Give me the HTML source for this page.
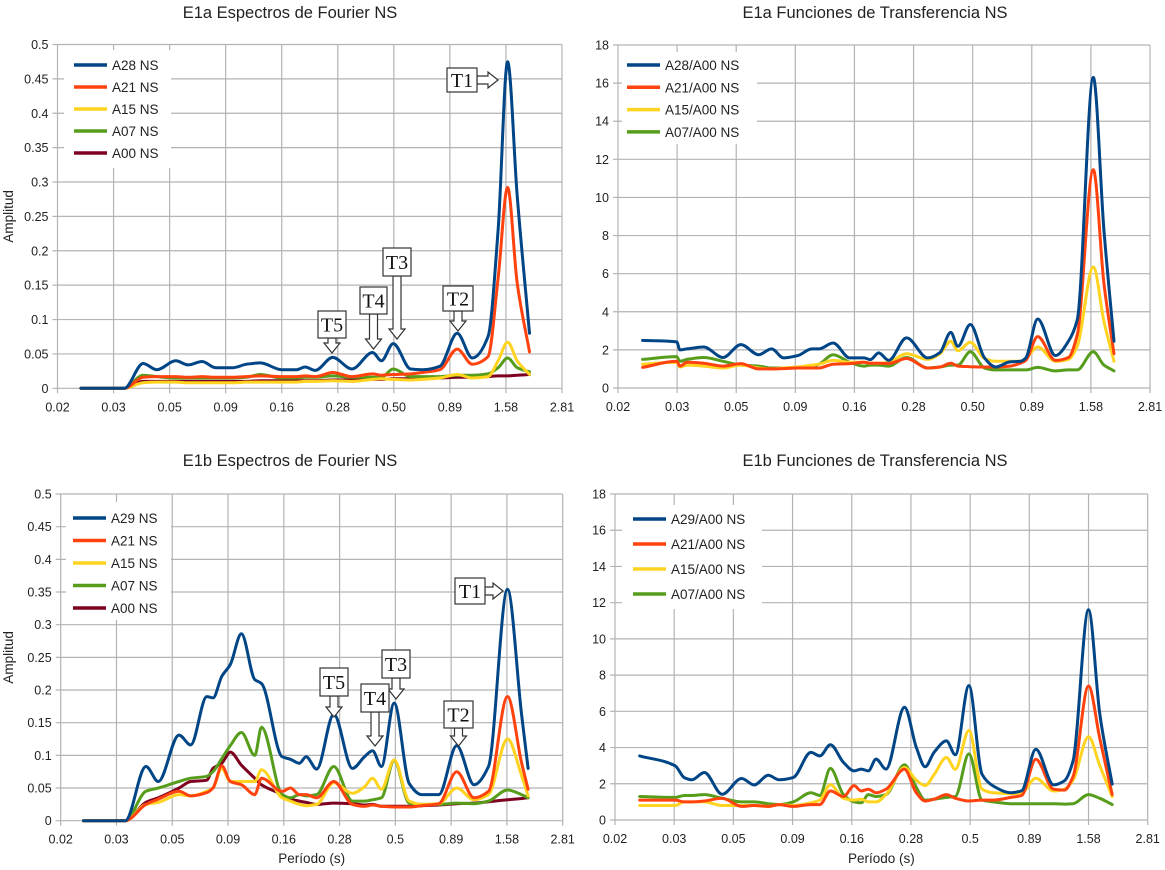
<!DOCTYPE html>
<html><head><meta charset="utf-8">
<style>
html,body{margin:0;padding:0;background:#fff;}
svg{display:block;font-family:"Liberation Sans",sans-serif;}
</style></head>
<body>
<svg id="chart" width="1165" height="870" viewBox="0 0 1165 870" xmlns="http://www.w3.org/2000/svg"></svg>
<script>
// ---------- data ----------
const xTickLabelsTop = ["0.02","0.03","0.05","0.09","0.16","0.28","0.50","0.89","1.58","2.81"];
const xTickLabelsBottom = ["0.02","0.03","0.05","0.09","0.16","0.28","0.5","0.89","1.58","2.81"];
const fourierTicks = [0,0.05,0.1,0.15,0.2,0.25,0.3,0.35,0.4,0.45,0.5];
const fourierTickLabels = ["0","0.05","0.1","0.15","0.2","0.25","0.3","0.35","0.4","0.45","0.5"];
const transfTicks = [0,2,4,6,8,10,12,14,16,18];
const transfTickLabels = ["0","2","4","6","8","10","12","14","16","18"];

// Top-left: E1a Fourier spectra
const tlPeriods = [0.0201,0.0314,0.0381,0.0438,0.0533,0.0605,0.0698,0.0802,0.0958,0.110,0.127,0.158,0.184,0.201,0.223,0.267,0.325,0.402,0.440,0.497,0.594,0.671,0.802,0.958,1.119,1.315,1.459,1.608,1.774,2.014];
const tlA28 = [0,0,0.036,0.027,0.040,0.034,0.039,0.030,0.030,0.035,0.037,0.027,0.027,0.031,0.026,0.045,0.028,0.052,0.040,0.065,0.028,0.027,0.032,0.080,0.044,0.075,0.23,0.475,0.28,0.08];
const tlA21 = [0,0,0.016,0.017,0.017,0.016,0.017,0.016,0.016,0.017,0.018,0.017,0.017,0.018,0.017,0.023,0.017,0.021,0.019,0.020,0.021,0.023,0.027,0.057,0.035,0.046,0.16,0.292,0.153,0.053];
const tlA15 = [0,0,0.008,0.009,0.009,0.008,0.008,0.008,0.008,0.009,0.009,0.009,0.009,0.010,0.010,0.011,0.010,0.013,0.014,0.013,0.012,0.013,0.015,0.020,0.015,0.017,0.040,0.067,0.040,0.020];
const tlA07 = [0,0,0.019,0.017,0.015,0.015,0.015,0.015,0.015,0.016,0.020,0.015,0.015,0.016,0.016,0.018,0.016,0.016,0.016,0.028,0.017,0.017,0.017,0.019,0.019,0.021,0.030,0.044,0.030,0.024];
const tlA00 = [0,0,0.010,0.010,0.010,0.010,0.010,0.010,0.010,0.010,0.011,0.011,0.011,0.011,0.011,0.012,0.012,0.013,0.013,0.014,0.014,0.015,0.015,0.016,0.016,0.017,0.018,0.018,0.019,0.020];

// Top-right: E1a transfer functions
const trPeriods = [0.0201,0.0280,0.0289,0.0310,0.0364,0.0440,0.0523,0.0622,0.0706,0.0792,0.0910,0.1045,0.1119,0.1285,0.1510,0.1733,0.1847,0.2002,0.2207,0.2625,0.3228,0.364,0.404,0.433,0.4885,0.561,0.626,0.719,0.797,0.839,0.942,1.119,1.270,1.385,1.618,1.795,1.980];
const trA28 = [2.50,2.42,2.00,2.05,2.15,1.60,2.28,1.75,2.05,1.58,1.70,2.05,2.05,2.36,1.58,1.58,1.49,1.84,1.45,2.63,1.58,1.87,2.92,2.19,3.33,1.58,1.10,1.37,1.40,1.58,3.62,1.70,2.45,3.59,16.3,8.3,2.45];
const trA21 = [1.08,1.40,1.15,1.35,1.30,1.15,1.28,1.00,1.00,1.02,1.05,1.05,1.05,1.25,1.28,1.35,1.30,1.30,1.28,1.55,1.05,1.10,1.30,1.15,1.12,1.10,1.10,1.15,1.30,1.45,2.70,1.45,1.60,2.80,11.45,5.5,1.80];
const trA15 = [1.25,1.35,1.10,1.20,1.15,1.05,1.20,1.05,1.00,1.05,1.10,1.20,1.25,1.45,1.35,1.35,1.30,1.30,1.35,1.80,1.50,1.80,2.45,1.95,2.40,1.55,1.40,1.40,1.40,1.55,2.15,1.40,1.50,2.20,6.35,3.5,1.40];
const trA07 = [1.50,1.65,1.40,1.50,1.60,1.40,1.20,1.15,1.05,1.05,1.10,1.15,1.25,1.75,1.35,1.15,1.20,1.20,1.15,1.60,1.05,1.10,1.20,1.20,1.90,1.05,0.95,0.95,0.95,0.95,1.08,0.90,0.95,0.95,1.90,1.20,0.90];

// Bottom-left: E1b Fourier spectra
const blPeriods = [0.0200,0.0308,0.0381,0.0433,0.0536,0.0605,0.0714,0.0761,0.0834,0.0910,0.1021,0.1172,0.1256,0.1554,0.1695,0.1858,0.199,0.222,0.265,0.321,0.364,0.395,0.433,0.494,0.577,0.655,0.783,0.942,1.126,1.307,1.590,1.836,1.968];
const blA29 = [0,0,0.083,0.060,0.131,0.116,0.190,0.188,0.221,0.239,0.286,0.216,0.210,0.098,0.094,0.088,0.098,0.079,0.163,0.080,0.098,0.107,0.083,0.180,0.057,0.040,0.040,0.115,0.055,0.083,0.354,0.165,0.080];
const blA21 = [0,0,0.025,0.033,0.045,0.038,0.043,0.050,0.084,0.060,0.055,0.040,0.065,0.045,0.050,0.040,0.040,0.035,0.060,0.025,0.022,0.024,0.022,0.021,0.021,0.023,0.026,0.075,0.035,0.045,0.190,0.090,0.048];
const blA15 = [0,0,0.025,0.028,0.040,0.038,0.045,0.050,0.080,0.060,0.060,0.060,0.078,0.035,0.030,0.025,0.023,0.025,0.058,0.042,0.052,0.065,0.048,0.093,0.030,0.025,0.026,0.050,0.032,0.040,0.125,0.070,0.038];
const blA07 = [0,0,0.045,0.050,0.060,0.065,0.068,0.075,0.095,0.115,0.135,0.100,0.143,0.040,0.035,0.040,0.038,0.040,0.083,0.030,0.030,0.032,0.035,0.092,0.027,0.025,0.025,0.027,0.026,0.030,0.047,0.040,0.035];
const blA00 = [0,0,0.028,0.035,0.050,0.060,0.062,0.080,0.088,0.105,0.085,0.065,0.055,0.040,0.033,0.030,0.028,0.025,0.027,0.026,0.024,0.025,0.022,0.022,0.022,0.023,0.024,0.026,0.027,0.029,0.032,0.034,0.035];

// Bottom-right: E1b transfer functions
const brPeriods = [0.0201,0.0284,0.0310,0.0334,0.0377,0.0448,0.0542,0.0612,0.0702,0.0779,0.0894,0.1063,0.1159,0.1285,0.1459,0.1618,0.1733,0.1858,0.2002,0.2207,0.2640,0.2963,0.3228,0.352,0.397,0.433,0.494,0.561,0.626,0.744,0.825,0.947,1.126,1.249,1.361,1.581,1.764,1.990];
const brA29 = [3.54,2.99,2.34,2.22,2.62,1.42,2.29,1.94,2.47,2.22,2.34,3.73,3.54,4.15,3.18,2.71,2.81,2.71,3.36,2.81,6.22,4.01,2.94,3.73,4.37,3.60,7.42,2.53,1.88,1.51,1.61,3.91,1.94,2.16,3.27,11.61,5.85,1.98];
const brA21 = [1.10,1.10,1.00,1.00,1.05,1.20,0.75,0.80,0.75,0.85,0.75,0.85,0.85,1.60,1.30,1.90,1.60,1.70,1.50,1.70,2.80,1.50,1.05,1.15,1.40,1.20,1.05,1.10,1.10,1.25,1.35,3.35,1.70,1.65,2.40,7.40,4.50,1.40];
const brA15 = [0.80,0.80,1.00,1.00,1.00,0.80,0.80,0.80,0.75,0.85,0.80,0.95,1.10,1.95,1.20,1.10,1.15,1.00,1.00,1.40,2.90,2.20,1.90,2.50,3.45,2.80,4.95,1.70,1.50,1.45,1.50,2.30,1.60,1.70,2.20,4.60,3.00,1.30];
const brA07 = [1.30,1.25,1.35,1.35,1.40,1.20,1.00,1.00,0.90,0.85,1.00,1.50,1.35,2.85,1.40,1.00,0.95,1.40,1.30,1.40,3.05,1.80,1.10,1.15,1.25,1.30,3.65,1.10,1.00,0.90,0.90,0.90,0.90,0.88,0.90,1.40,1.20,0.85];

// ---------- drawing ----------
const C = {blue:"#004586", orange:"#ff420e", yellow:"#ffd320", green:"#579d1c", maroon:"#7e0021"};
const svg = document.getElementById('chart');
const NS = "http://www.w3.org/2000/svg";
function mk(tag, attrs, parent){
  const e = document.createElementNS(NS, tag);
  for (const k in attrs) e.setAttribute(k, attrs[k]);
  (parent||svg).appendChild(e);
  return e;
}
const P0 = Math.log10(0.0158114);

function monotonePath(pts){
  const n = pts.length;
  if (n < 2) return "";
  const dx=[], dy=[], m=[];
  for (let i=0;i<n-1;i++){dx.push(pts[i+1][0]-pts[i][0]); dy.push(pts[i+1][1]-pts[i][1]); m.push(dy[i]/dx[i]);}
  const t=[m[0]];
  for (let i=1;i<n-1;i++){
    if (m[i-1]*m[i] <= 0) t.push(0);
    else { const w1=2*dx[i]+dx[i-1], w2=dx[i]+2*dx[i-1]; t.push((w1+w2)/(w1/m[i-1]+w2/m[i])); }
  }
  t.push(m[n-2]);
  let d = "M"+pts[0][0].toFixed(1)+","+pts[0][1].toFixed(1);
  for (let i=0;i<n-1;i++){
    const h=dx[i];
    d += " C"+(pts[i][0]+h/3).toFixed(1)+","+(pts[i][1]+t[i]*h/3).toFixed(1)+" "+(pts[i+1][0]-h/3).toFixed(1)+","+(pts[i+1][1]-t[i+1]*h/3).toFixed(1)+" "+pts[i+1][0].toFixed(1)+","+pts[i+1][1].toFixed(1);
  }
  return d;
}

function drawPanel(cfg){
  const g = mk('g', {});
  
  
  const step = (cfg.x9-cfg.x0)/9;
  const xS = p => cfg.x0 + (Math.log10(p)-P0)/0.25*step;
  const yS = v => cfg.yb - v/cfg.ymax*(cfg.yb-cfg.yt);
  const grid = mk('g', {}, g);
  
  
  cfg.yTicks.forEach((v,i)=>{
    const y = yS(v);
    mk('line',{x1:cfg.x0-5,x2:cfg.x9,y1:y,y2:y,stroke:"#b3b3b3","stroke-width":1.2},grid);
    const t = mk('text',{x:cfg.x0-9,y:y+4.5,"text-anchor":"end","font-size":12.5,fill:"#222"},g);
    t.textContent = cfg.yLabels[i];
    
    
  });
  for (let i=0;i<10;i++){
    const x = cfg.x0 + i*step;
    mk('line',{x1:x,x2:x,y1:cfg.yt,y2:cfg.yb+5,stroke:"#b3b3b3","stroke-width":1.2},grid);
    const t = mk('text',{x:x,y:cfg.yb+23,"text-anchor":"middle","font-size":12.5,fill:"#222"},g);
    t.textContent = cfg.xLabels[i];
    
    
  }
  const tt = mk('text',{x:cfg.titleX,y:cfg.titleY,"text-anchor":"middle","font-size":16.5,fill:"#222"},g);
  tt.textContent = cfg.title;
  
  
  if (cfg.yTitle){
    const yt = mk('text',{x:0,y:0,"text-anchor":"middle","font-size":13.5,fill:"#222",transform:"translate(13,"+((cfg.yt+cfg.yb)/2)+") rotate(-90)"},g);
    yt.textContent = cfg.yTitle;
    
    
  }
  if (cfg.xTitle){
    const xt = mk('text',{x:(cfg.x0+cfg.x9)/2,y:863,"text-anchor":"middle","font-size":13.5,fill:"#222"},g);
    xt.textContent = cfg.xTitle;
    
    
  }
  for (let s=cfg.series.length-1; s>=0; s--){
    const ser = cfg.series[s];
    const pts = cfg.periods.map((p,i)=>[xS(p), yS(ser.values[i])]);
    const path = mk('path',{d:monotonePath(pts),fill:"none",stroke:ser.color,"stroke-width":3,"stroke-linejoin":"round","stroke-linecap":"round"},g);
    
    
  }
  const lg = mk('g',{},g);
  
  
  mk('rect',{x:cfg.legend.x,y:cfg.legend.y,width:cfg.legend.w,height:cfg.legend.h,fill:"#fff"},lg);
  cfg.series.forEach((ser,i)=>{
    const y = cfg.legend.ly0 + i*cfg.legend.dy;
    const e = mk('g',{},lg);
    
    
    mk('line',{x1:cfg.legend.lx,x2:cfg.legend.lx+33,y1:y,y2:y,stroke:ser.color,"stroke-width":3.5},e);
    const t = mk('text',{x:cfg.legend.lx+38,y:y+5,"font-size":13.5,fill:"#222"},e);
    t.textContent = ser.label;
  });
  (cfg.notes||[]).forEach(n=>drawNote(g,n));
}

function drawNote(parent, n){
  const g = mk('g',{},parent);
  
  
  const st = {fill:"#fff",stroke:"#333","stroke-width":1.2};
  if (n.dir === 'down'){
    const cx = n.x + n.w/2, yb = n.y + n.h, tip = n.tip;
    const hw = 4, aw = 8, ah = 10;
    const pts = [[cx-hw,yb],[cx-hw,tip-ah],[cx-aw,tip-ah],[cx,tip],[cx+aw,tip-ah],[cx+hw,tip-ah],[cx+hw,yb]];
    mk('polygon',Object.assign({points:pts.map(p=>p.join(',')).join(' ')},st),g);
  } else {
    const cy = n.y + n.h/2, xr = n.x + n.w, tip = n.tip;
    const hw = 4, aw = 8, ah = 10;
    const pts = [[xr,cy-hw],[tip-ah,cy-hw],[tip-ah,cy-aw],[tip,cy],[tip-ah,cy+aw],[tip-ah,cy+hw],[xr,cy+hw]];
    mk('polygon',Object.assign({points:pts.map(p=>p.join(',')).join(' ')},st),g);
  }
  mk('rect',Object.assign({x:n.x,y:n.y,width:n.w,height:n.h},st),g);
  const t = mk('text',{x:n.x+n.w/2,y:n.y+n.h/2+7,"text-anchor":"middle","font-size":20,fill:"#111","font-family":"Liberation Serif, serif"},g);
  t.textContent = n.label;
}

drawPanel({name:"e1a-fourier-chart", title:"E1a Espectros de Fourier NS", titleX:290, titleY:18,
  x0:57.5, x9:562, yt:44.5, yb:388.3, ymax:0.5, yTicks:fourierTicks, yLabels:fourierTickLabels, xLabels:xTickLabelsTop,
  yTitle:"Amplitud", periods:tlPeriods,
  series:[{label:"A28 NS",color:C.blue,values:tlA28},{label:"A21 NS",color:C.orange,values:tlA21},{label:"A15 NS",color:C.yellow,values:tlA15},{label:"A07 NS",color:C.green,values:tlA07},{label:"A00 NS",color:C.maroon,values:tlA00}],
  legend:{x:64,y:50,w:107,h:118,lx:74,ly0:65,dy:22},
  notes:[{label:"T1",x:447,y:68,w:30,h:24,dir:'right',tip:498},
         {label:"T2",x:443,y:286,w:30,h:25,dir:'down',tip:331},
         {label:"T3",x:383,y:248,w:28,h:28,dir:'down',tip:339},
         {label:"T4",x:360,y:287,w:27,h:27,dir:'down',tip:349},
         {label:"T5",x:318,y:311,w:28,h:27,dir:'down',tip:353}]});

drawPanel({name:"e1a-transfer-chart", title:"E1a Funciones de Transferencia NS", titleX:875, titleY:18,
  x0:618, x9:1150, yt:45, yb:388, ymax:18, yTicks:transfTicks, yLabels:transfTickLabels, xLabels:xTickLabelsTop,
  periods:trPeriods,
  series:[{label:"A28/A00 NS",color:C.blue,values:trA28},{label:"A21/A00 NS",color:C.orange,values:trA21},{label:"A15/A00 NS",color:C.yellow,values:trA15},{label:"A07/A00 NS",color:C.green,values:trA07}],
  legend:{x:622,y:52,w:135,h:92,lx:627,ly0:65,dy:22.3}});

drawPanel({name:"e1b-fourier-chart", title:"E1b Espectros de Fourier NS", titleX:290, titleY:466,
  x0:60.7, x9:562.7, yt:494, yb:820.7, ymax:0.5, yTicks:fourierTicks, yLabels:fourierTickLabels, xLabels:xTickLabelsBottom,
  yTitle:"Amplitud", xTitle:"Período (s)", periods:blPeriods,
  series:[{label:"A29 NS",color:C.blue,values:blA29},{label:"A21 NS",color:C.orange,values:blA21},{label:"A15 NS",color:C.yellow,values:blA15},{label:"A07 NS",color:C.green,values:blA07},{label:"A00 NS",color:C.maroon,values:blA00}],
  legend:{x:66,y:502,w:105,h:118,lx:73,ly0:518,dy:22.5},
  notes:[{label:"T1",x:455,y:578,w:30,h:26,dir:'right',tip:503},
         {label:"T2",x:444,y:701,w:29,h:27,dir:'down',tip:746},
         {label:"T3",x:382,y:650,w:28,h:28,dir:'down',tip:699},
         {label:"T4",x:361,y:684,w:28,h:28,dir:'down',tip:746},
         {label:"T5",x:320,y:668,w:28,h:28,dir:'down',tip:717}]});

drawPanel({name:"e1b-transfer-chart", title:"E1b Funciones de Transferencia NS", titleX:875, titleY:466,
  x0:615, x9:1147.7, yt:494, yb:820, ymax:18, yTicks:transfTicks, yLabels:transfTickLabels, xLabels:xTickLabelsBottom,
  xTitle:"Período (s)", periods:brPeriods,
  series:[{label:"A29/A00 NS",color:C.blue,values:brA29},{label:"A21/A00 NS",color:C.orange,values:brA21},{label:"A15/A00 NS",color:C.yellow,values:brA15},{label:"A07/A00 NS",color:C.green,values:brA07}],
  legend:{x:622,y:505,w:140,h:104,lx:633,ly0:519,dy:25}});
</script>
</body></html>
